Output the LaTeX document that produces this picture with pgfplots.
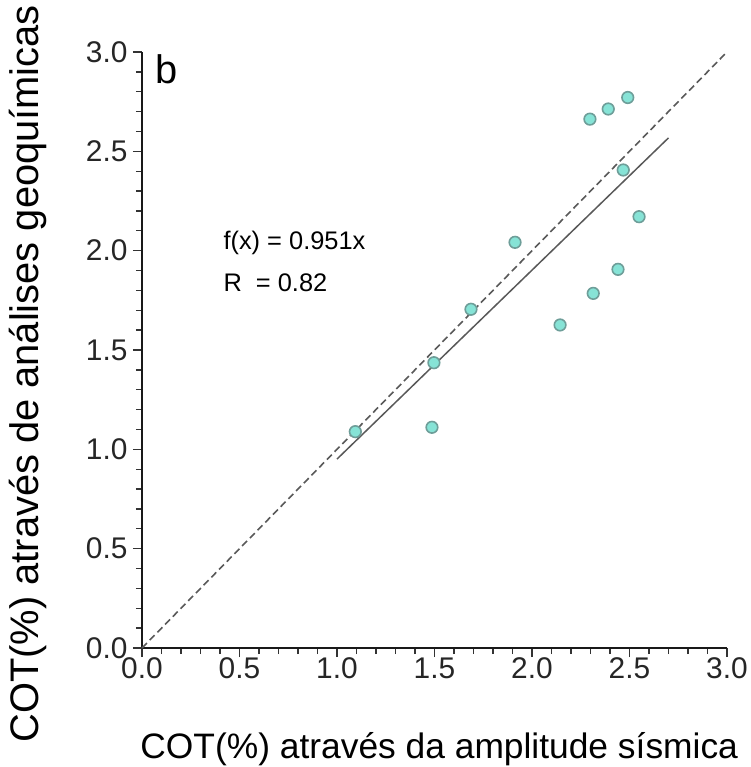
\documentclass[border=0pt]{standalone}
\usepackage{pgfplots}
\pgfplotsset{compat=1.18}
\usepackage{fontspec}
\setmainfont{Liberation Sans}
\definecolor{mfill}{HTML}{86E3D6}
\definecolor{medge}{HTML}{6E9E99}
\begin{document}
\begin{tikzpicture}[x=1bp,y=1bp]
\begin{axis}[
  width=585bp, height=596bp, scale only axis,
  xmin=0, xmax=3, ymin=0, ymax=3,
  axis x line*=bottom, axis y line*=left,
  axis line style={line width=2.2bp, black!90},
  xtick={0,0.5,...,3.0}, ytick={0,0.5,...,3.0},
  minor tick num=4,
  tick align=outside,
  major tick length=9bp, minor tick length=6bp,
  every tick/.style={black!80, line width=1.3bp},
  /pgf/number format/fixed, /pgf/number format/fixed zerofill, /pgf/number format/precision=1,
  /pgf/number format/assume math mode=true,
  ticklabel style={font=\fontsize{30}{36}\selectfont, text=black!85},
  xticklabel style={yshift=3bp},
  yticklabel style={xshift=-2bp},
  xlabel={COT(\%) através da amplitude sísmica},
  ylabel={COT(\%) através de análises geoquímicas},
  xlabel style={font=\fontsize{35.5}{40}\selectfont, at={(axis description cs:0.508,0)}, anchor=base, yshift=-110bp},
  ylabel style={font=\fontsize{40}{46}\selectfont, at={(axis description cs:0,0.46)}, anchor=base, yshift=103bp},
  clip=false,
]
\addplot[black!65, line width=1.6bp, dash pattern=on 7bp off 4bp] coordinates {(0,0) (3,3)};
\addplot[black!65, line width=1.5bp] coordinates {(1.0,0.951) (2.7,2.5677)};
\addplot[only marks, mark=*, mark size=5.8bp, mark options={fill=mfill, draw=medge, line width=1.6bp}] coordinates {
(2.297,2.662) (2.391,2.713) (2.491,2.771) (2.468,2.406) (2.549,2.171)
(1.913,2.042) (2.441,1.906) (2.314,1.785) (2.144,1.626) (1.687,1.705)
(1.497,1.436) (1.487,1.111) (1.094,1.089)};
\node[anchor=west, font=\fontsize{25.5}{28}\selectfont] at (axis cs:0.40,2.04) {f(x) = 0.951x};
\node[anchor=west, font=\fontsize{25.5}{28}\selectfont] at (axis cs:0.40,1.84) {R\ \ = 0.82};
\node[anchor=north west, font=\fontsize{40}{46}\selectfont, inner sep=0pt] at (axis cs:0.07,2.99) {b};
\end{axis}
\pgfresetboundingbox
\path[use as bounding box] (current axis.south west) ++(-142bp,-119bp) rectangle ++(751bp,767bp);
\end{tikzpicture}
\end{document}
